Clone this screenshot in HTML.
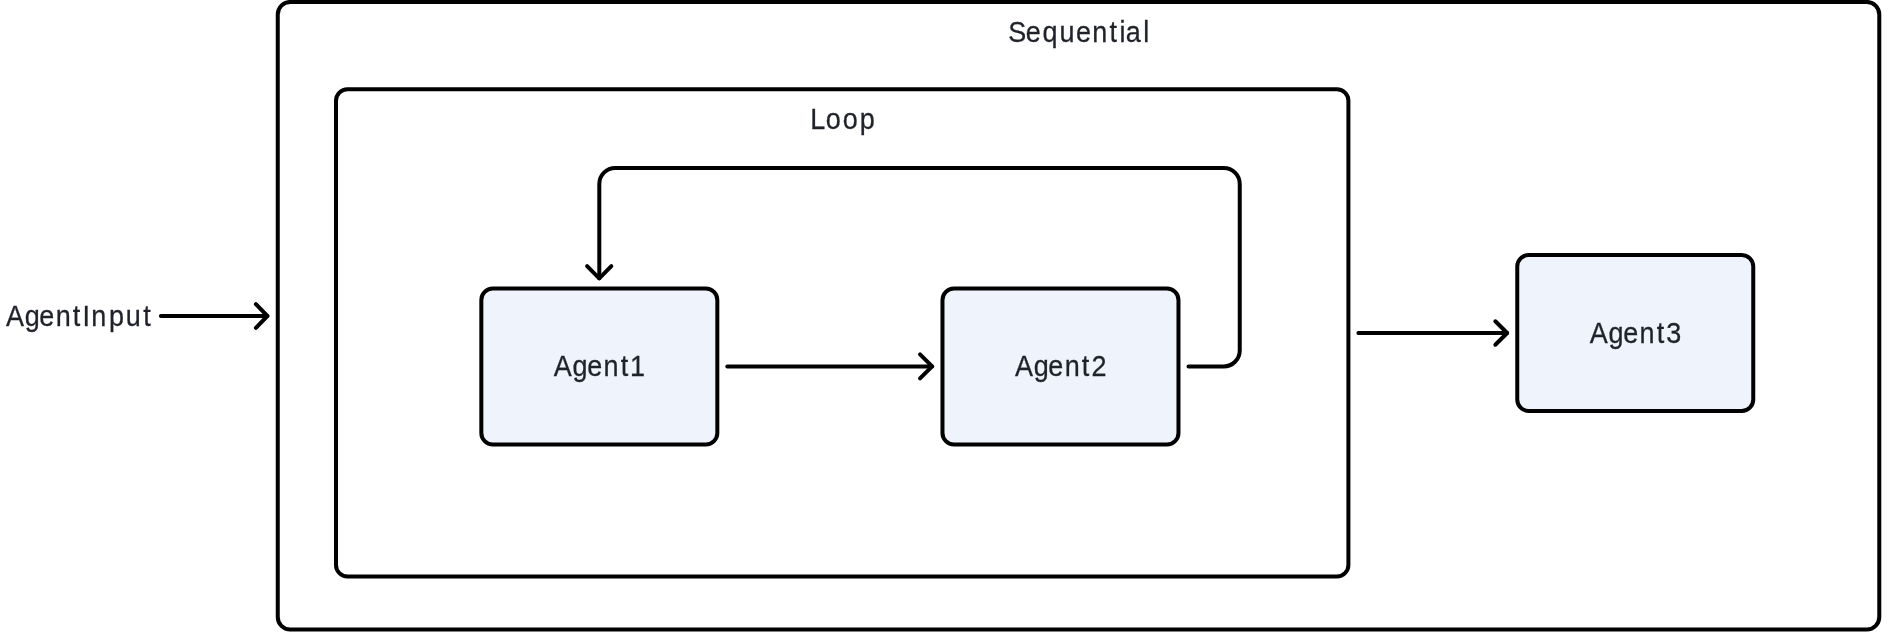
<!DOCTYPE html>
<html>
<head>
<meta charset="utf-8">
<title>Sequential / Loop agent diagram</title>
<style>
  html, body { margin: 0; padding: 0; background: #ffffff; }
  body { width: 1888px; height: 632px; overflow: hidden; font-family: "Liberation Sans", sans-serif; }
  svg { display: block; will-change: transform; }
  .box  { fill: none; stroke: #000000; stroke-width: 4; }
  .node { fill: #eff3fc; stroke: #000000; stroke-width: 4; }
  .ln   { fill: none; stroke: #000000; stroke-width: 4; stroke-linecap: round; stroke-linejoin: round; }
  text  { font-family: "Liberation Sans", sans-serif; font-size: 30px; fill: #1f2329; stroke: #1f2329; stroke-width: 0.3px; }
</style>
</head>
<body>
<svg width="1888" height="632" viewBox="0 0 1888 632">

  <!-- Sequential container -->
  <rect class="box" x="277.75" y="1.95" width="1601.53" height="627.65" rx="12.5" ry="12.5"/>
  <text transform="scale(0.9,1)" x="1120.28 1139.63 1158.28 1177.13 1195.58 1213.68 1232.8 1244.02 1250.95 1270.41" y="41.85">Sequential</text>

  <!-- Loop container -->
  <rect class="box" x="336" y="89.3" width="1012.4" height="487.16" rx="11.5" ry="11.5"/>
  <text transform="scale(0.9,1)" x="900.32 917.58 936.3 955.37" y="128.8">Loop</text>

  <!-- Agent nodes -->
  <rect class="node" x="481.33" y="288.48" width="236" height="155.97" rx="11.5" ry="11.5"/>
  <text transform="scale(0.9,1)" x="615.31 636.22 652.49 670.68 689.77 700.14" y="375.85">Agent1</text>

  <rect class="node" x="942.48" y="288.48" width="236" height="155.97" rx="11.5" ry="11.5"/>
  <text transform="scale(0.9,1)" x="1127.83 1148.56 1164.85 1183.01 1202.08 1212.77" y="375.85">Agent2</text>

  <rect class="node" x="1517.25" y="255" width="236" height="156" rx="11.5" ry="11.5"/>
  <text transform="scale(0.9,1)" x="1766.42 1787.33 1803.58 1821.79 1840.88 1851.47" y="342.85">Agent3</text>

  <!-- AgentInput label + arrow -->
  <text transform="scale(0.9,1)" x="6.75 27.53 43.72 61.9 80.88 91.73 101.51 121.15 139.63 159.19" y="325.85">AgentInput</text>
  <path class="ln" d="M160.9 316 H267.4"/>
  <path class="ln" d="M255.9 304.2 L267.4 316 L255.9 327.8"/>

  <!-- Agent1 -> Agent2 -->
  <path class="ln" d="M727.3 366.45 H932.15"/>
  <path class="ln" d="M920.05 354.45 L932.15 366.45 L920.05 378.45"/>

  <!-- Agent2 -> loop back -> Agent1 -->
  <path class="ln" d="M1188.5 366.45 H1223.75 A16 16 0 0 0 1239.75 350.45 V184 A16 16 0 0 0 1223.75 168 H615.3 A16 16 0 0 0 599.3 184 V278.3"/>
  <path class="ln" d="M587.1 266.05 L599.25 278.3 L611.35 266.05"/>

  <!-- Sequential(Loop) -> Agent3 -->
  <path class="ln" d="M1358.4 333 H1507.15"/>
  <path class="ln" d="M1495.35 321.25 L1507.15 333 L1495.35 344.75"/>
</svg>
</body>
</html>
